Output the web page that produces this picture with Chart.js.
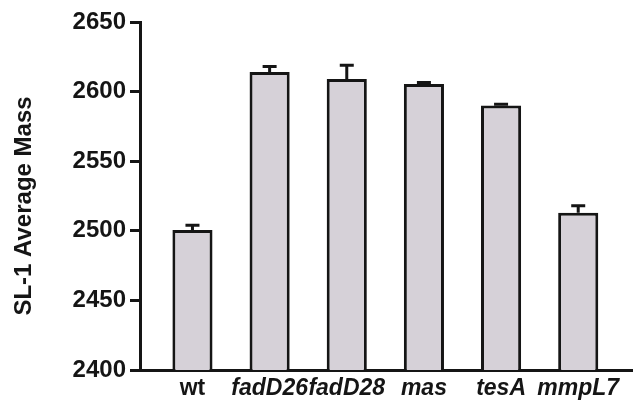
<!DOCTYPE html>
<html>
<head>
<meta charset="utf-8">
<script src="https://cdn.jsdelivr.net/npm/chart.js@4/dist/chart.umd.min.js"></script>
<style>
  html, body { margin: 0; padding: 0; background: #fff; }
  #wrap { width: 633px; height: 403px; }
</style>
</head>
<body>
<div id="wrap"><canvas id="bar-chart"></canvas></div>
<script>
const strains = ['wt', 'fadD26', 'fadD28', 'mas', 'tesA', 'mmpL7'];
const avgMass = [2500.5, 2614, 2609, 2605.5, 2590, 2513];
const massErr = [3.5, 4, 10, 1, 1, 5];
const yTicks = [2400, 2450, 2500, 2550, 2600, 2650];

const ink = '#151515';
const font = 'Liberation Sans, Arial, Helvetica, sans-serif';

// error bars on top of each bar
const errorBars = {
    id: 'errorBars',
    afterDatasetsDraw(chart) {
        const ctx = chart.ctx;
        const meta = chart.getDatasetMeta(0);
        const y = chart.scales.y;
        ctx.save();
        ctx.strokeStyle = ink;
        ctx.lineWidth = 3;
        meta.data.forEach((bar, i) => {
            const top = y.getPixelForValue(avgMass[i] + massErr[i]);
            const base = y.getPixelForValue(avgMass[i]);
            ctx.beginPath();
            ctx.moveTo(bar.x, base);
            ctx.lineTo(bar.x, top);
            ctx.moveTo(bar.x - 7, top);
            ctx.lineTo(bar.x + 7, top);
            ctx.stroke();
        });
        ctx.restore();
    }
};

new Chart(document.getElementById('bar-chart'), {
    type: 'bar',
    data: {
        datasets: [{
            data: strains.map((s, i) => ({x: i, y: avgMass[i]})),
            backgroundColor: '#d6d1d8',
            borderColor: ink,
            borderWidth: 3,
            borderSkipped: false,
            categoryPercentage: 1,
            barPercentage: 0.52
        }]
    },
    options: {
        responsive: true,
        maintainAspectRatio: false,
        animation: false,
        layout: { padding: { top: 22, right: 0, left: 0, bottom: 0 } },
        plugins: { legend: { display: false }, tooltip: { enabled: false } },
        scales: {
            x: {
                type: 'linear',
                offset: false,
                min: -0.68,
                max: 5.71,
                grid: { display: false, offset: false },
                border: { display: true, color: ink, width: 3 },
                afterFit: (scale) => { scale.height = 33; },
                ticks: {
                    stepSize: 1,
                    includeBounds: false,
                    autoSkip: false,
                    maxRotation: 0,
                    padding: -3,
                    color: ink,
                    font: (c) => ({
                        family: font, size: 23, weight: 'bold',
                        style: c.tick && c.tick.value === 0 ? 'normal' : 'italic'
                    }),
                    callback: (v) => strains[v]
                }
            },
            y: {
                min: yTicks[0],
                max: yTicks[yTicks.length - 1],
                afterFit: (scale) => { scale.width = 140; },
                afterBuildTicks: (scale) => { scale.ticks = yTicks.map(v => ({value: v})); },
                grid: {
                    drawOnChartArea: false,
                    tickLength: 10,
                    tickWidth: 3,
                    tickColor: ink
                },
                border: { display: true, color: ink, width: 3 },
                ticks: {
                    padding: 4,
                    color: ink,
                    font: { family: font, size: 24, weight: 'bold' },
                    callback: (v) => String(v)
                },
                title: {
                    display: true,
                    text: 'SL-1 Average Mass   ',
                    color: ink,
                    padding: { top: 10, bottom: 0 },
                    font: { family: font, size: 24, weight: 'bold' }
                }
            }
        }
    },
    plugins: [errorBars]
});
</script>
</body>
</html>
